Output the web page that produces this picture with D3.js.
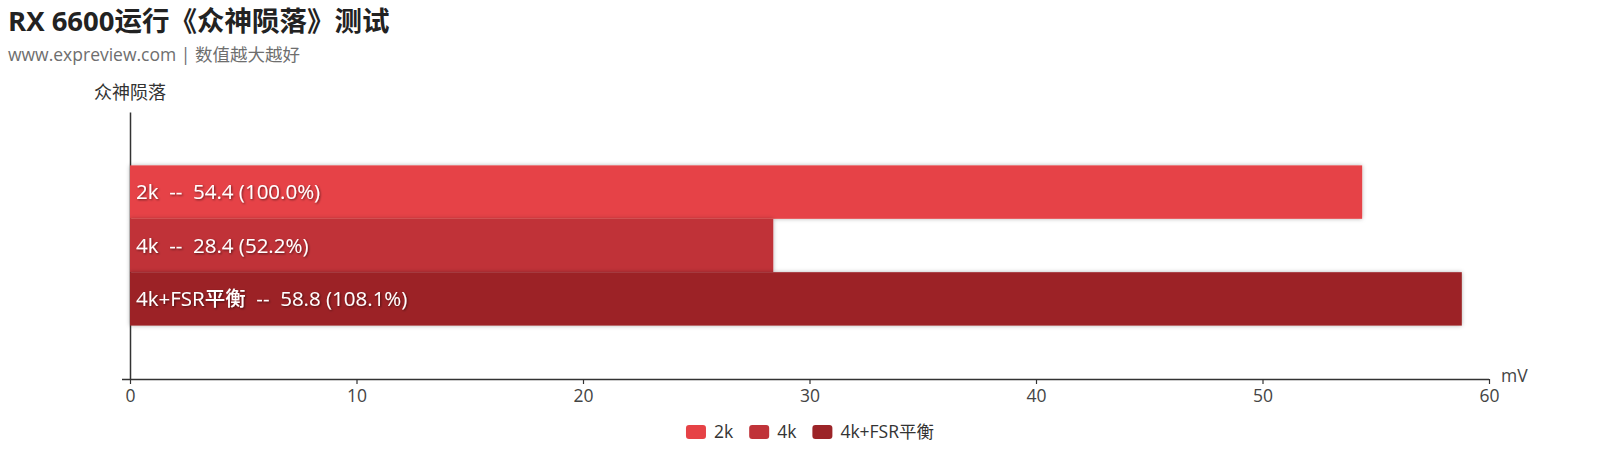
<!DOCTYPE html>
<html>
<head>
<meta charset="utf-8">
<script src="https://cdn.jsdelivr.net/npm/d3@7/dist/d3.min.js"></script>
<style>
  html, body { margin: 0; padding: 0; background: #fff; }
  svg { display: block; font-family: "Open Sans", "Noto Sans CJK SC", sans-serif; }
  text { white-space: pre; }
</style>
</head>
<body>
<svg id="chart" width="1620" height="472"></svg>
<script>
// ---- data ----
const titleText = "RX 6600运行《众神陨落》测试";
const subtitleText = "www.expreview.com | 数值越大越好";
const categories = ["众神陨落"];
const seriesNames = ["2k", "4k", "4k+FSR平衡"];
const seriesValues = [54.4, 28.4, 58.8];
const seriesColors = ["#e64246", "#c03339", "#9c2428"];
const xTicks = [0, 10, 20, 30, 40, 50, 60];
const xUnit = "mV";

// ---- layout ----
const W = 1620, H = 472;
const svg = d3.select("#chart");

const defs = svg.append("defs");
defs.append("filter").attr("id", "barShadow")
  .attr("x", "-5%").attr("y", "-20%").attr("width", "110%").attr("height", "140%")
  .append("feDropShadow").attr("dx", 0).attr("dy", 0).attr("stdDeviation", 2)
  .attr("flood-color", "#000").attr("flood-opacity", 0.3);
defs.append("filter").attr("id", "textShadow")
  .attr("x", "-5%").attr("y", "-30%").attr("width", "110%").attr("height", "160%")
  .append("feDropShadow").attr("dx", 1).attr("dy", 1).attr("stdDeviation", 1)
  .attr("flood-color", "#000").attr("flood-opacity", 0.55);

// title
svg.append("text").attr("x", 8).attr("y", 31)
  .attr("font-size", 27.5).attr("font-weight", "bold").attr("fill", "#222")
  .text(titleText);
svg.append("text").attr("x", 8).attr("y", 61)
  .attr("font-size", 17.5).attr("fill", "#6e6e6e")
  .text(subtitleText);

// scales
const x = d3.scaleLinear().domain([xTicks[0], xTicks[xTicks.length - 1]]).range([130, 1489]);
const y = d3.scaleBand().domain(categories).range([112, 379]).padding(0);
const ySub = d3.scaleBand().domain(seriesNames).range([0, y.bandwidth()]).paddingInner(0).paddingOuter(1);

// x axis
const xAxisG = svg.append("g").attr("transform", `translate(0,${y.range()[1]})`)
  .call(d3.axisBottom(x).tickValues(xTicks).tickSize(5).tickSizeOuter(0).tickPadding(6));
xAxisG.select(".domain").attr("stroke", "#333").attr("stroke-width", 1.5)
  .attr("d", `M${x.range()[0] - 8},0.5H${x.range()[1]}`);
xAxisG.selectAll(".tick line").attr("stroke", "#333").attr("stroke-width", 1.2);
xAxisG.selectAll(".tick text").attr("font-size", 17.5).attr("fill", "#444")
  .attr("font-family", "\"Open Sans\", \"Noto Sans CJK SC\", sans-serif");

svg.append("text").attr("x", x.range()[1] + 12).attr("y", y.range()[1] - 3)
  .attr("dy", "0.36em")
  .attr("font-size", 17.5).attr("fill", "#444").text(xUnit);

// y axis
const yAxisG = svg.append("g").attr("transform", `translate(${x.range()[0]},0)`)
  .call(d3.axisLeft(y).tickSize(0).tickFormat(""));
yAxisG.select(".domain").attr("stroke", "#333").attr("stroke-width", 1.5);
svg.append("text").attr("x", x.range()[0]).attr("y", 99)
  .attr("text-anchor", "middle").attr("font-size", 18).attr("fill", "#333")
  .text(categories[0]);

// bars
const rows = seriesNames.map((s, i) => ({
  name: s, value: seriesValues[i], color: seriesColors[i],
  pct: (seriesValues[i] / seriesValues[0] * 100).toFixed(1)
}));

const barG = svg.append("g");
barG.selectAll("rect").data(rows).join("rect")
  .attr("x", x(0))
  .attr("y", d => y(categories[0]) + ySub(d.name))
  .attr("width", d => x(d.value) - x(0))
  .attr("height", ySub.bandwidth())
  .attr("fill", d => d.color)
  .attr("filter", "url(#barShadow)");

barG.selectAll("text").data(rows).join("text")
  .attr("x", x(0) + 6)
  .attr("y", d => y(categories[0]) + ySub(d.name) + ySub.bandwidth() / 2)
  .attr("dy", "0.36em")
  .attr("font-size", 20.5).attr("font-weight", 500).attr("fill", "#fff")
  .attr("filter", "url(#textShadow)")
  .text(d => `${d.name}  --  ${d.value.toFixed(1)} (${d.pct}%)`);

// legend
const legend = svg.append("g");
const items = legend.selectAll("g").data(rows).join("g");
items.append("rect").attr("width", 20).attr("height", 14).attr("rx", 3)
  .attr("y", -7).attr("fill", d => d.color);
items.append("text").attr("x", 28).attr("dy", "0.36em")
  .attr("font-size", 17.5).attr("fill", "#333").text(d => d.name);
let offset = 0;
const positions = [];
items.each(function() {
  positions.push(offset);
  const w = 28 + this.querySelector("text").getComputedTextLength();
  offset += w + 16;
});
const total = offset - 16;
items.attr("transform", (d, i) => `translate(${W / 2 - total / 2 + positions[i]},432)`);
</script>
</body>
</html>
